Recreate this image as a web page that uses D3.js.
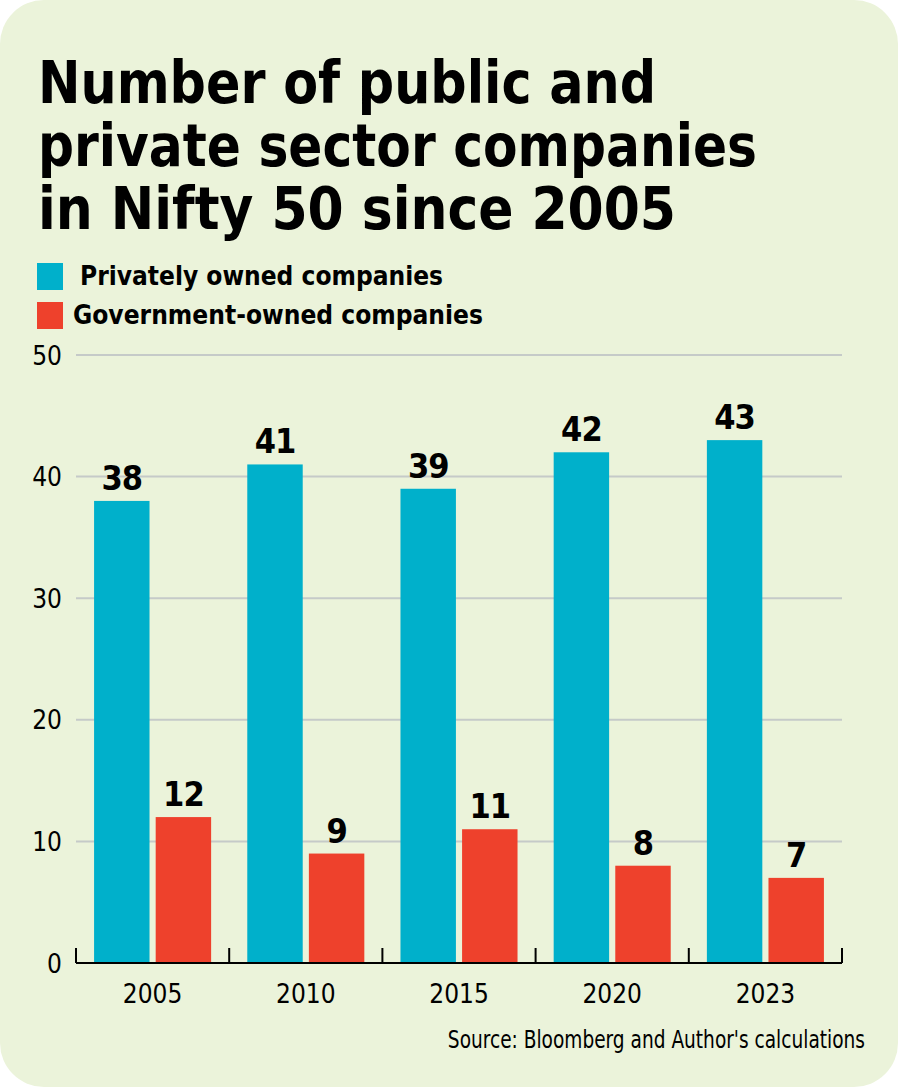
<!DOCTYPE html>
<html lang="en">
  <head>
    <meta charset="utf-8">
    <title>Nifty 50 companies</title>
    <script src="https://cdn.jsdelivr.net/npm/d3@7"></script>
    <style type="text/css">
    body {
      margin: 0;
      background-color: #ffffff;
    }
    .title {
      font-family: "DejaVu Sans Condensed", "DejaVu Sans", sans-serif;
      font-weight: bold;
      font-size: 59px;
      fill: #000;
    }
    .legend_text {
      font-family: "DejaVu Sans Condensed", "DejaVu Sans", sans-serif;
      font-weight: bold;
      font-size: 27px;
      fill: #000;
    }
    .tick text {
      font-family: "DejaVu Sans Condensed", "DejaVu Sans", sans-serif;
      font-size: 26px;
      fill: #000;
    }
    .value_label {
      font-family: "DejaVu Sans Condensed", "DejaVu Sans", sans-serif;
      font-weight: bold;
      font-size: 34px;
      letter-spacing: -1px;
      text-anchor: middle;
      fill: #000;
    }
    .source {
      font-family: "DejaVu Sans Condensed", "DejaVu Sans", sans-serif;
      font-size: 24px;
      text-anchor: end;
      fill: #000;
    }
    </style>
  </head>
  <body>
    <script type="text/javascript">
    var svgWidth = 898;
    var svgHeight = 1087;

    // data
    var years = ["2005", "2010", "2015", "2020", "2023"];
    var privateCos = [38, 41, 39, 42, 43];
    var governmentCos = [12, 9, 11, 8, 7];
    var seriesNames = ["Privately owned companies", "Government-owned companies"];
    var yTicks = [0, 10, 20, 30, 40, 50];

    var colors = ["#00b0cb", "#ee412c"];

    var svg = d3.select("body")
      .append("svg")
      .attr("width", svgWidth)
      .attr("height", svgHeight);

    // background card
    svg.append("rect")
      .attr("x", 0)
      .attr("y", 0)
      .attr("width", svgWidth)
      .attr("height", svgHeight)
      .attr("rx", 44)
      .attr("ry", 44)
      .attr("fill", "#ebf3da");

    // title
    var titleLines = ["Number of public and", "private sector companies", "in Nifty 50 since 2005"];
    var titleWidths = [618, 719, 638];
    svg.selectAll(".title")
      .data(titleLines)
      .enter()
      .append("text")
      .attr("class", "title")
      .attr("x", 38)
      .attr("y", function(d, i) { return 103 + i * 63; })
      .attr("textLength", function(d, i) { return titleWidths[i]; })
      .attr("lengthAdjust", "spacingAndGlyphs")
      .text(function(d) { return d; });

    // legend
    var legendWidths = [363, 410];
    var legend = svg.selectAll(".legend")
      .data(seriesNames)
      .enter()
      .append("g")
      .attr("class", "legend")
      .attr("transform", function(d, i) { return "translate(37," + (263 + i * 39) + ")"; });
    legend.append("rect")
      .attr("width", 26)
      .attr("height", 27)
      .attr("fill", function(d, i) { return colors[i]; });
    legend.append("text")
      .attr("class", "legend_text")
      .attr("x", function(d, i) { return i == 0 ? 43 : 36; })
      .attr("y", 22)
      .attr("textLength", function(d, i) { return legendWidths[i]; })
      .attr("lengthAdjust", "spacingAndGlyphs")
      .text(function(d) { return d; });

    // scales
    var plotLeft = 76, plotRight = 842, plotTop = 355, plotBottom = 963;

    var x0 = d3.scaleBand()
      .domain(years)
      .range([plotLeft, plotRight])
      .paddingInner(0.236)
      .paddingOuter(0.118);

    var x1 = d3.scaleBand()
      .domain([0, 1])
      .range([0, x0.bandwidth()])
      .paddingInner(0.1);

    var y = d3.scaleLinear()
      .domain([0, 50])
      .range([plotBottom, plotTop]);

    // gridlines
    svg.selectAll(".grid")
      .data(yTicks.filter(function(d) { return d > 0; }))
      .enter()
      .append("line")
      .attr("class", "grid")
      .attr("x1", plotLeft)
      .attr("x2", plotRight)
      .attr("y1", function(d) { return y(d); })
      .attr("y2", function(d) { return y(d); })
      .attr("stroke", "#c5cac8")
      .attr("stroke-width", 2);

    // y axis labels
    var yAxis = svg.append("g")
      .attr("transform", "translate(" + (plotLeft - 14) + ",0)")
      .call(d3.axisLeft(y).tickValues(yTicks).tickSize(0).tickPadding(0));
    yAxis.select(".domain").remove();
    yAxis.selectAll(".tick text").attr("dy", "0.35em");

    // bars
    var rows = years.map(function(yr, i) {
      return {year: yr, values: [privateCos[i], governmentCos[i]]};
    });

    var groups = svg.selectAll(".year_group")
      .data(rows)
      .enter()
      .append("g")
      .attr("class", "year_group")
      .attr("transform", function(d) { return "translate(" + x0(d.year) + ",0)"; });

    groups.selectAll("rect")
      .data(function(d) { return d.values; })
      .enter()
      .append("rect")
      .attr("x", function(d, i) { return x1(i); })
      .attr("y", function(d) { return y(d); })
      .attr("width", x1.bandwidth())
      .attr("height", function(d) { return y(0) - y(d); })
      .attr("fill", function(d, i) { return colors[i]; });

    groups.selectAll(".value_label")
      .data(function(d) { return d.values; })
      .enter()
      .append("text")
      .attr("class", "value_label")
      .attr("x", function(d, i) { return x1(i) + x1.bandwidth() / 2; })
      .attr("y", function(d) { return y(d) - 11; })
      .text(function(d) { return d; });

    // x axis: baseline with tick marks at band boundaries
    svg.append("line")
      .attr("x1", plotLeft)
      .attr("x2", plotRight)
      .attr("y1", plotBottom)
      .attr("y2", plotBottom)
      .attr("stroke", "#000")
      .attr("stroke-width", 2);

    var boundaries = years.map(function(yr) { return x0(yr) - x0.step() * x0.paddingInner() / 2; });
    boundaries.push(plotRight);
    svg.selectAll(".xtick")
      .data(boundaries)
      .enter()
      .append("line")
      .attr("class", "xtick")
      .attr("x1", function(d) { return d; })
      .attr("x2", function(d) { return d; })
      .attr("y1", plotBottom - 15)
      .attr("y2", plotBottom)
      .attr("stroke", "#000")
      .attr("stroke-width", 2);

    var xAxis = svg.append("g")
      .attr("transform", "translate(0," + plotBottom + ")")
      .call(d3.axisBottom(x0).tickSize(0).tickPadding(0));
    xAxis.select(".domain").remove();
    xAxis.selectAll(".tick text")
      .attr("font-size", 28)
      .attr("y", 40)
      .attr("dy", 0);

    // source, squeezed horizontally to match the condensed face
    svg.append("g")
      .attr("transform", "translate(865,1048) scale(0.86,1)")
      .append("text")
      .attr("class", "source")
      .attr("x", 0)
      .attr("y", 0)
      .text("Source: Bloomberg and Author's calculations");
    </script>
  </body>
</html>
